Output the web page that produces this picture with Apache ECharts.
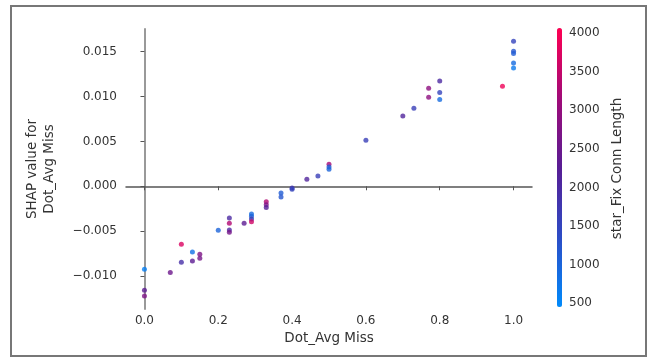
<!DOCTYPE html>
<html>
<head>
<meta charset="utf-8">
<script src="https://cdn.jsdelivr.net/npm/echarts@6/dist/echarts.min.js"></script>
<style>
  html, body { margin: 0; padding: 0; background: #fff; }
  #chart { width: 651px; height: 363px; }
</style>
</head>
<body>
<div id="chart"></div>
<script>
// feature value (Dot_Avg Miss), SHAP value, colour feature (star_Fix Conn Length)
var dotAvgMiss = [
  0.0, 0.0, 0.0, 0.07, 0.1, 0.1, 0.13, 0.13, 0.15, 0.15,
  0.2, 0.23, 0.23, 0.23, 0.23, 0.27, 0.29, 0.29, 0.29, 0.29,
  0.33, 0.33, 0.33, 0.37, 0.37, 0.4, 0.4, 0.44, 0.47, 0.5,
  0.5, 0.5, 0.6, 0.7, 0.73, 0.77, 0.77, 0.8, 0.8, 0.8,
  0.97, 1.0, 1.0, 1.0, 1.0, 1.0
];
var shapValues = [
  -0.00925, -0.01159, -0.01223, -0.00962, -0.00646, -0.00847, -0.00732, -0.00833, -0.00758, -0.00802,
  -0.0049, -0.00353, -0.00412, -0.00487, -0.00513, -0.00412, -0.0031, -0.00334, -0.00364, -0.00396,
  -0.00173, -0.00206, -0.00237, -0.00075, -0.00119, -0.00019, -0.00033, 0.00078, 0.00115, 0.00245,
  0.00215, 0.0019, 0.00513, 0.00784, 0.00869, 0.01092, 0.00992, 0.01174, 0.01044, 0.00966,
  0.01115, 0.01616, 0.01505, 0.01479, 0.01374, 0.01319
];
var connLength = [
  600, 2300, 2700, 2500, 3700, 1900, 800, 2300, 2700, 2600,
  1000, 2000, 3300, 2000, 2600, 2300, 900, 1000, 1700, 3600,
  3300, 2700, 2200, 1100, 1200, 1800, 1500, 2100, 1600, 3200,
  1100, 1000, 1600, 2100, 1600, 2900, 2900, 2000, 1500, 900,
  3900, 1500, 1200, 1100, 900, 700
];
var xTicks = [0.0, 0.2, 0.4, 0.6, 0.8, 1.0];
var yTicks = [-0.010, -0.005, 0.000, 0.005, 0.010, 0.015];
var cbarTicks = [500, 1000, 1500, 2000, 2500, 3000, 3500, 4000];

var points = dotAvgMiss.map(function (x, i) {
  return [x, shapValues[i], connLength[i]];
});

var font = 'DejaVu Sans';
var textColor = '#333';

var chart = echarts.init(document.getElementById('chart'));
chart.setOption({
  backgroundColor: '#fff',
  animation: false,
  graphic: [{
    type: 'rect',
    shape: { x: 11, y: 6, width: 635, height: 350 },
    style: { fill: 'none', stroke: '#777', lineWidth: 2 }
  }],
  grid: [
    { left: 126, top: 29, width: 406, height: 280 },
    { left: 558, top: 29, width: 5, height: 279 }
  ],
  xAxis: [{
    gridIndex: 0,
    type: 'value',
    min: -0.05,
    max: 1.05,
    name: 'Dot_Avg Miss',
    nameLocation: 'middle',
    nameGap: 21,
    nameTextStyle: { fontFamily: font, fontSize: 13.5, color: textColor },
    axisLine: { lineStyle: { color: '#555', width: 1.5 } },
    axisTick: { customValues: xTicks, length: 4, lineStyle: { color: '#555' } },
    axisLabel: {
      customValues: xTicks,
      fontFamily: font, fontSize: 12, color: textColor, margin: 6,
      formatter: function (v) { return v.toFixed(1); }
    },
    splitLine: { show: false }
  }, {
    gridIndex: 1,
    type: 'value',
    show: false
  }],
  yAxis: [{
    gridIndex: 0,
    type: 'value',
    min: -0.01368,
    max: 0.01753,
    name: 'SHAP value for\nDot_Avg Miss',
    nameLocation: 'middle',
    nameRotate: 90,
    nameGap: 68,
    nameTextStyle: { fontFamily: font, fontSize: 13.5, color: textColor, lineHeight: 17 },
    axisLine: { show: true, lineStyle: { color: '#999', width: 2 } },
    axisTick: { show: true, customValues: yTicks, length: 4, lineStyle: { color: '#555' } },
    axisLabel: {
      customValues: yTicks,
      fontFamily: font, fontSize: 12, color: textColor, margin: 9,
      formatter: function (v) { return v.toFixed(3).replace('-', '\u2212'); }
    },
    splitLine: { show: false }
  }, {
    gridIndex: 1,
    type: 'value',
    position: 'right',
    min: 440,
    max: 4050,
    name: 'star_Fix Conn Length',
    nameLocation: 'middle',
    nameRotate: 90,
    nameGap: 47,
    nameTextStyle: { fontFamily: font, fontSize: 13.5, color: textColor },
    axisLine: { show: false },
    axisTick: { show: true, customValues: cbarTicks, length: 3, lineStyle: { color: '#555' } },
    axisLabel: {
      customValues: cbarTicks,
      fontFamily: font, fontSize: 12, color: textColor, margin: 6,
      formatter: function (v) { return String(v); }
    },
    splitLine: { show: false }
  }],
  visualMap: {
    type: 'continuous',
    seriesIndex: 0,
    dimension: 2,
    min: 440,
    max: 4050,
    calculable: false,
    showLabel: false,
    text: null,
    orient: 'vertical',
    left: 542,
    top: 13,
    itemWidth: 5,
    itemHeight: 279,
    inRange: {
      color: ['#008bfb', '#2c4cc6', '#581d94', '#a10a78', '#ff0052']
    }
  },
  series: [{
    type: 'scatter',
    xAxisIndex: 0,
    yAxisIndex: 0,
    symbolSize: 5,
    data: points
  }]
});
</script>
</body>
</html>
